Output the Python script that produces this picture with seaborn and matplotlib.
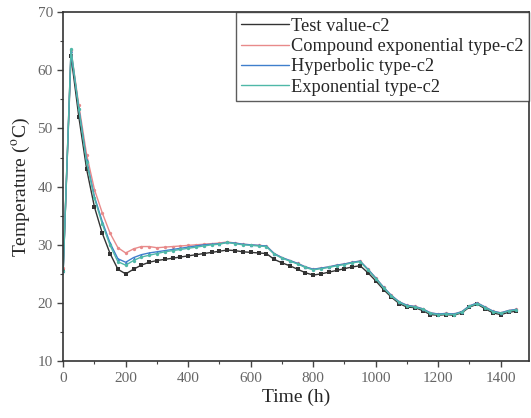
import numpy as np
import pandas as pd
import matplotlib
matplotlib.use('Agg')
import matplotlib.pyplot as plt
import seaborn as sns
from matplotlib.ticker import MultipleLocator

# ----- DATA -----
time_h = [0, 25, 50, 75, 100, 125, 150, 175, 200, 225, 250, 275, 300, 325, 350,
          375, 400, 425, 450, 475, 500, 525, 550, 575, 600, 625, 650, 675, 700,
          725, 750, 775, 800, 825, 850, 875, 900, 925, 950, 975, 1000, 1025,
          1050, 1075, 1100, 1125, 1150, 1175, 1200, 1225, 1250, 1275, 1300,
          1325, 1350, 1375, 1400, 1425, 1450]

test_value = [25.5, 62.5, 52.0, 43.0, 36.5, 32.0, 28.5, 25.8, 25.0, 25.8, 26.5,
              27.0, 27.3, 27.5, 27.7, 27.9, 28.1, 28.3, 28.5, 28.7, 28.9, 29.1,
              29.0, 28.8, 28.7, 28.6, 28.5, 27.5, 26.9, 26.4, 25.8, 25.2, 24.8,
              25.0, 25.3, 25.6, 25.9, 26.2, 26.4, 25.2, 23.8, 22.3, 21.0, 19.9,
              19.3, 19.2, 18.7, 18.0, 17.9, 18.0, 17.9, 18.3, 19.3, 19.8, 19.0,
              18.3, 18.0, 18.4, 18.6]

compound_exp = [26.0, 63.5, 54.0, 45.5, 39.5, 35.5, 32.0, 29.5, 28.6, 29.3, 29.7,
                29.7, 29.5, 29.6, 29.7, 29.8, 29.9, 30.0, 30.1, 30.2, 30.3, 30.5,
                30.3, 30.1, 30.0, 29.9, 29.8, 28.5, 27.8, 27.3, 26.8, 26.2, 25.8,
                26.0, 26.2, 26.5, 26.7, 27.0, 27.2, 25.8, 24.3, 22.7, 21.3, 20.2,
                19.6, 19.4, 19.0, 18.3, 18.1, 18.2, 18.1, 18.5, 19.5, 20.0, 19.3,
                18.6, 18.3, 18.7, 18.9]

hyperbolic = [25.5, 63.3, 53.5, 44.5, 38.3, 34.0, 30.3, 27.6, 27.0, 27.8, 28.3,
              28.6, 28.8, 29.0, 29.2, 29.4, 29.6, 29.8, 30.0, 30.1, 30.2, 30.4,
              30.3, 30.1, 30.0, 29.9, 29.8, 28.5, 27.8, 27.3, 26.8, 26.2, 25.8,
              26.0, 26.2, 26.5, 26.7, 27.0, 27.2, 25.8, 24.3, 22.7, 21.3, 20.2,
              19.6, 19.4, 19.0, 18.3, 18.1, 18.2, 18.1, 18.5, 19.5, 20.0, 19.3,
              18.6, 18.3, 18.7, 18.9]

exponential = [25.5, 63.6, 53.3, 44.2, 38.0, 33.6, 29.9, 27.1, 26.5, 27.3, 27.9,
               28.2, 28.5, 28.8, 29.0, 29.2, 29.4, 29.6, 29.8, 30.0, 30.1, 30.4,
               30.2, 30.0, 29.9, 29.8, 29.7, 28.4, 27.7, 27.2, 26.7, 26.1, 25.7,
               25.9, 26.1, 26.4, 26.6, 26.9, 27.1, 25.7, 24.2, 22.6, 21.2, 20.1,
               19.5, 19.3, 18.9, 18.2, 18.0, 18.1, 18.0, 18.4, 19.4, 19.9, 19.2,
               18.5, 18.2, 18.6, 18.8]

series_names = ['Test value-c2', 'Compound exponential type-c2',
                'Hyperbolic type-c2', 'Exponential type-c2']
series_values = [test_value, compound_exp, hyperbolic, exponential]
colors = ['#333333', '#e88a8a', '#3f7fcc', '#4fb8a8']
markers = ['s', 'o', '^', 'o']

# ----- PLOT -----
sns.set_style('ticks')
plt.rcParams['font.family'] = ['Liberation Serif', 'DejaVu Serif']
plt.rcParams['mathtext.fontset'] = 'stix'

fig = plt.figure(figsize=(5.31, 4.18), dpi=100)
ax = fig.add_axes([0.119, 0.136, 0.877, 0.835])

for name, vals, col, mk in zip(series_names, series_values, colors, markers):
    df = pd.DataFrame({'Time': time_h, 'Temp': vals})
    sns.lineplot(data=df, x='Time', y='Temp', ax=ax, color=col, lw=1.0,
                 marker=mk, markersize=2.4, markeredgewidth=0, label=name)

ax.set_xlim(0, 1490)
ax.set_ylim(10, 70)
ax.xaxis.set_major_locator(MultipleLocator(200))
ax.xaxis.set_minor_locator(MultipleLocator(100))
ax.yaxis.set_major_locator(MultipleLocator(10))
ax.yaxis.set_minor_locator(MultipleLocator(5))
ax.tick_params(which='major', direction='out', length=4, width=1,
               colors='#444444', labelsize=11, labelcolor='#666666')
ax.tick_params(which='minor', direction='out', length=2.5, width=0.8,
               colors='#444444')
for sp in ax.spines.values():
    sp.set_visible(True)
    sp.set_color('#333333')
    sp.set_linewidth(1.2)

ax.set_xlabel('Time (h)', fontsize=14, labelpad=3)
ax.set_ylabel('Temperature ($^{\\mathrm{o}}$C)', fontsize=14, labelpad=4)

leg = ax.legend(loc='upper right', fontsize=13.2, frameon=True, fancybox=False,
                borderaxespad=0, labelspacing=0.18, handlelength=2.6,
                handletextpad=0.1, borderpad=0.3)
leg.get_frame().set_edgecolor('#333333')
leg.get_frame().set_linewidth(1.0)
for h in leg.get_lines():
    h.set_marker('')

fig.savefig('out.png', dpi=100)
